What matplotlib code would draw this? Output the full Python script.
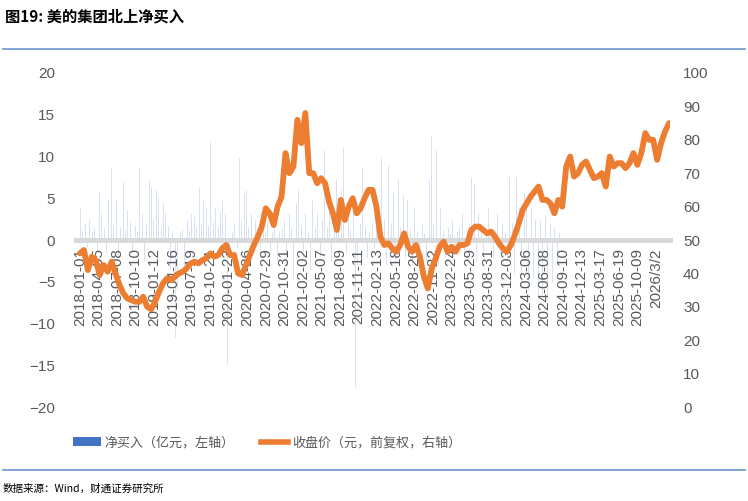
import numpy as np
import matplotlib.pyplot as plt
from matplotlib.patches import Patch
from matplotlib.lines import Line2D

plt.rcParams['font.family'] = ['Liberation Sans', 'Noto Sans CJK SC']
plt.rcParams['axes.unicode_minus'] = True

# 横轴标签（分类轴，每94个数据点一个标签）
date_labels = ['2018-01-01', '2018-04-05', '2018-07-08', '2018-10-10', '2019-01-12',
               '2019-04-16', '2019-07-19', '2019-10-21', '2020-01-23', '2020-04-26',
               '2020-07-29', '2020-10-31', '2021-02-02', '2021-05-07', '2021-08-09',
               '2021-11-11', '2022-02-13', '2022-05-18', '2022-08-20', '2022-11-22',
               '2023-02-24', '2023-05-29', '2023-08-31', '2023-12-03', '2024-03-06',
               '2024-06-08', '2024-09-10', '2024-12-13', '2025-03-17', '2025-06-19',
               '2025-10-09', '2026/3/2']
label_step = 94

# 收盘价（元，前复权），每20个数据点取一次
price_step = 20
price = [46, 47, 41, 45, 44, 39.5, 42.5, 40.5, 43.5, 40,
         36.5, 34, 32.5, 32, 31.5, 31.5, 33, 30, 29.3, 31.5,
         34.5, 37, 38.5, 38, 39, 40, 40.5, 41.5, 43, 43.5,
         43, 44, 44.5, 46, 45, 45.5, 47.5, 48.5, 45.5, 45.5,
         40, 39.5, 42.5, 45.5, 48.5, 51, 54, 59.5, 58, 54.5,
         60, 63, 76, 70, 72, 86, 79, 88, 70, 70,
         67, 68.5, 67, 61.5, 58, 53, 62, 56, 60, 62.5,
         58, 59.5, 62.5, 65, 65, 60, 51, 48.5, 49, 47.5,
         46.5, 48.5, 52, 48, 46.5, 48.5, 45, 39, 35.5, 41.5,
         44.5, 48, 49.5, 46.5, 48, 46.5, 48.5, 48.5, 49, 53,
         54, 54, 53, 52, 52.5, 51, 49, 47.5, 46.5, 48.5,
         51.5, 55, 59, 61, 63, 64.5, 66, 62, 62, 61,
         58, 62, 60, 72, 75, 69, 70, 72.5, 73.5, 71,
         68.5, 69, 70, 66, 75, 72, 73, 73, 71.5, 73,
         76, 72.5, 76, 82, 80, 80, 74, 79, 82.5, 85]

# 北上净买入（亿元），每12个数据点取一次
flow_step = 12
net_buy = [4.0, 1.2, 2.0, -0.8, 2.4, 1.0, 1.5, -1.0, 5.8, 3.2,
           1.4, -1.5, 4.8, 8.6, 1.8, 4.8, -2.0, 1.6, 7.0, 1.2,
           3.6, 2.2, -1.2, 1.8, 0.9, 8.8, 3.2, -2.5, 2.0, 7.2,
           6.4, 2.5, 6.0, 5.0, 1.5, 4.4, 3.2, 1.7, -3.5, 0.8,
           -11.6, -6.0, 1.0, 1.3, -4.0, 2.4, 1.2, 3.2, 2.9, 1.5,
           6.4, 2.0, 4.8, 4.0, 1.8, 11.7, 2.2, 4.0, 1.6, 3.5,
           4.8, 3.2, -14.8, -2.0, 1.0, 2.0, -1.0, 9.8, 2.4, 5.6,
           6.0, 1.6, 3.2, -1.5, 2.4, 1.2, -2.0, 1.3, 0.8, 2.4,
           -1.2, 1.0, 1.7, -2.5, 0.9, 1.4, 2.4, -3.0, 3.2, 1.5,
           -4.5, 4.4, 6.0, 1.8, -2.0, 3.2, 1.0, -3.5, 4.8, 1.6,
           3.2, -2.0, 2.5, 10.8, 1.5, 4.0, -2.5, 2.0, 7.2, 1.8,
           6.0, 11.1, -1.5, 4.0, 1.2, 3.5, -17.6, -3.0, 2.0, 8.7,
           1.5, -2.0, 1.0, 2.0, -1.0, 1.5, 0.8, 9.8, 2.5, -3.0,
           9.0, 2.0, 5.6, -2.5, 7.2, 1.6, 5.4, -2.0, 4.8, 1.2,
           -3.0, 4.0, 1.0, -1.5, 2.0, 0.8, -2.5, 7.2, 12.6, 2.0,
           10.8, -3.0, 4.0, 1.2, -2.0, 1.5, 0.8, 2.4, -1.5, 1.0,
           1.5, 3.2, -2.0, 1.2, 2.0, 7.6, 6.8, -2.5, 3.2, 1.4,
           -1.8, 1.0, 4.0, 1.5, -2.2, 1.2, 3.2, -1.5, 2.0, 1.0,
           -2.5, 7.6, 2.0, -4.0, 7.5, 4.0, -5.5, 5.6, 4.0, -6.0,
           4.0, -4.5, 2.5, -7.0, 2.4, -6.5, 3.0, -7.2, 2.0, -5.0,
           1.5, -3.0, 1.0]

blue = '#4472C4'
orange = '#ED7D31'
grey_txt = '#595959'
cjk = ['Noto Sans CJK SC', 'DejaVu Sans']

fig = plt.figure(figsize=(7.48, 5.01), dpi=100)
ax = fig.add_axes([0.1016, 0.1876, 0.7941, 0.6667])
ax2 = ax.twinx()

# 净买入柱（很密，显得很淡）
flow_x = np.arange(len(net_buy)) * flow_step
ax.vlines(flow_x, 0, net_buy, color=blue, alpha=0.25, lw=0.6, zorder=2)
ax.set_ylim(-20, 20)
ax.set_yticks(np.arange(-20, 21, 5))
ax.set_xlim(-20, 2985)

# 零轴（灰色粗线，标签贴着零轴）
ax.spines['bottom'].set_position(('data', 0))
ax.spines['bottom'].set_color('#d9d9d9')
ax.spines['bottom'].set_linewidth(3.6)
for s in ['top', 'left', 'right']:
    ax.spines[s].set_visible(False)
ax.set_xticks(np.arange(len(date_labels)) * label_step)
ax.set_xticklabels(date_labels, rotation=90, fontsize=11, color=grey_txt)
ax.tick_params(axis='x', length=0, pad=6)
ax.tick_params(axis='y', length=0, pad=15, labelsize=11, labelcolor=grey_txt)

# 收盘价
price_x = np.arange(len(price)) * price_step
ax2.plot(price_x, price, color=orange, lw=4.2,
         solid_joinstyle='round', solid_capstyle='round')
ax2.set_ylim(0, 100)
ax2.set_yticks(np.arange(0, 101, 10))
ax2.tick_params(axis='y', length=0, pad=9.4, labelsize=11, labelcolor=grey_txt)
for s in ax2.spines.values():
    s.set_visible(False)

# 图例
handles = [Patch(facecolor=blue, edgecolor='none'),
           Line2D([], [], color=orange, lw=4)]
fig.legend(handles, ['净买入（亿元，左轴）', '收盘价（元，前复权，右轴）'],
           loc='center', bbox_to_anchor=(0.357, 0.116), ncol=2, frameon=False,
           prop={'family': cjk, 'size': 9.4}, labelcolor=grey_txt,
           handlelength=2.1, handletextpad=0.3, columnspacing=2.0)

# 标题、分隔线、来源
fig.text(0.007, 0.984, '图19: 美的集团北上净买入', fontsize=11, fontweight='bold',
         family=cjk, va='top', ha='left')
fig.add_artist(Line2D([0.004, 0.996], [0.902, 0.902], transform=fig.transFigure,
                      color='#6c96cc', lw=1.2))
fig.add_artist(Line2D([0.004, 0.996], [0.062, 0.062], transform=fig.transFigure,
                      color='#6c96cc', lw=1.2))
fig.text(0.004, 0.024, '数据来源：Wind，财通证券研究所', fontsize=7.6,
         family=cjk, va='center', ha='left')

fig.savefig('out.png', dpi=100)
